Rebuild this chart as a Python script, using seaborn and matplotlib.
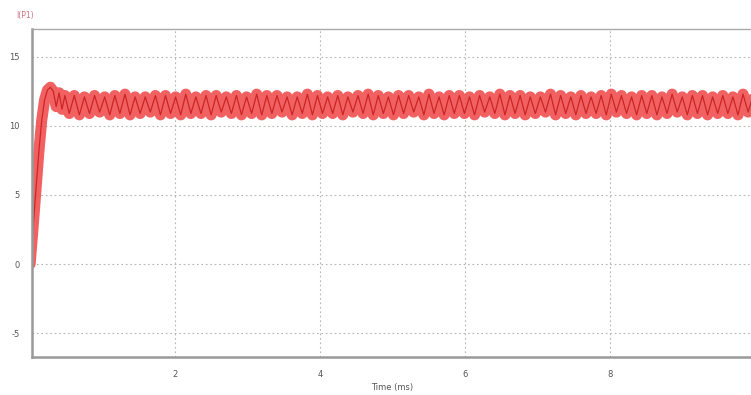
import numpy as np
import pandas as pd
import matplotlib
matplotlib.use("Agg")
import matplotlib.pyplot as plt
import seaborn as sns

# =========================
# DATA
# =========================
# start-up transient, time in ms, current in A
t_start = [0.0, 0.04, 0.08, 0.12, 0.16, 0.20, 0.24, 0.28, 0.32, 0.36, 0.40, 0.44, 0.48]
i_start = [0.0, 2.6, 5.4, 8.1, 10.4, 11.9, 12.6, 12.8, 12.5, 11.4, 12.4, 11.2, 12.2]

# steady state ripple: alternating peak / valley values
peaks = [12.2, 12.1, 12.2, 12.1, 12.2, 12.3, 12.1, 12.1, 12.2, 12.2,
         12.1, 12.3, 12.1, 12.2, 12.2, 12.1, 12.2, 12.1, 12.3, 12.2,
         12.2, 12.1, 12.1, 12.3, 12.2, 12.1, 12.2, 12.1, 12.2, 12.3,
         12.2, 12.1, 12.2, 12.2, 12.1, 12.3, 12.1, 12.2, 12.2, 12.1,
         12.2, 12.1, 12.3, 12.2, 12.2, 12.1, 12.1, 12.3, 12.2, 12.1,
         12.2, 12.1, 12.2, 12.3, 12.2, 12.1, 12.2, 12.2, 12.1, 12.3,
         12.1, 12.2, 12.2, 12.1, 12.2, 12.1, 12.3, 12.2]
valleys = [10.9, 10.8, 10.9, 11.0, 10.8, 10.9, 10.8, 10.9, 11.0, 10.8,
           10.9, 10.8, 10.9, 10.9, 10.8, 11.0, 10.9, 10.8, 10.9, 10.8,
           10.9, 11.0, 10.8, 10.9, 10.8, 10.9, 10.9, 10.8, 11.0, 10.9,
           10.8, 10.9, 10.8, 10.9, 11.0, 10.8, 10.9, 10.8, 10.9, 10.9,
           10.8, 11.0, 10.9, 10.8, 10.9, 10.8, 10.9, 11.0, 10.8, 10.9,
           10.8, 10.9, 10.9, 10.8, 11.0, 10.9, 10.8, 10.9, 10.8, 10.9,
           11.0, 10.8, 10.9, 10.8, 10.9, 10.9, 10.8, 11.0]

x_ticks = [2, 4, 6, 8]
y_ticks = [-5, 0, 5, 10, 15]
trace_label = "I(P1)"
x_label = "Time (ms)"

# =========================
# BUILD SERIES
# =========================
ripple = [v for pair in zip(valleys, peaks) for v in pair]
t_ripple = np.linspace(0.54, 9.98, len(ripple))

df = pd.DataFrame({
    "t": list(t_start) + list(t_ripple),
    "i": list(i_start) + ripple,
})

# =========================
# PLOT
# =========================
sns.set_style("white")
plt.rcParams["axes.unicode_minus"] = False
fig = plt.figure(figsize=(7.51, 3.95), dpi=100)
ax = fig.add_axes([0.043, 0.096, 0.957, 0.831])

sns.lineplot(data=df, x="t", y="i", ax=ax, color="#f04545", lw=8,
             alpha=0.85, estimator=None, sort=False)
sns.lineplot(data=df, x="t", y="i", ax=ax, color="#c81e1e", lw=0.9,
             alpha=0.9, estimator=None, sort=False)

ax.set_xlim(0.03, 9.95)
ax.set_ylim(-6.74, 17.03)
ax.set_xticks(x_ticks)
ax.set_yticks(y_ticks)
ax.tick_params(axis="both", length=0, labelsize=6, colors="#555555", pad=9)

ax.grid(True, color="#b5b5b5", linestyle=(0, (1.5, 2.5)), lw=0.8)
ax.set_axisbelow(True)

for side in ["left", "bottom"]:
    ax.spines[side].set_color("#999999")
    ax.spines[side].set_linewidth(1.8)
ax.spines["top"].set_color("#aaaaaa")
ax.spines["top"].set_linewidth(1.0)
ax.spines["right"].set_visible(False)

ax.set_xlabel(x_label, fontsize=6, color="#555555", labelpad=3)
ax.set_ylabel("")
fig.text(0.022, 0.962, trace_label, fontsize=5.5, color="#d07080",
         ha="left", va="center")

fig.savefig("out.png", dpi=100)
